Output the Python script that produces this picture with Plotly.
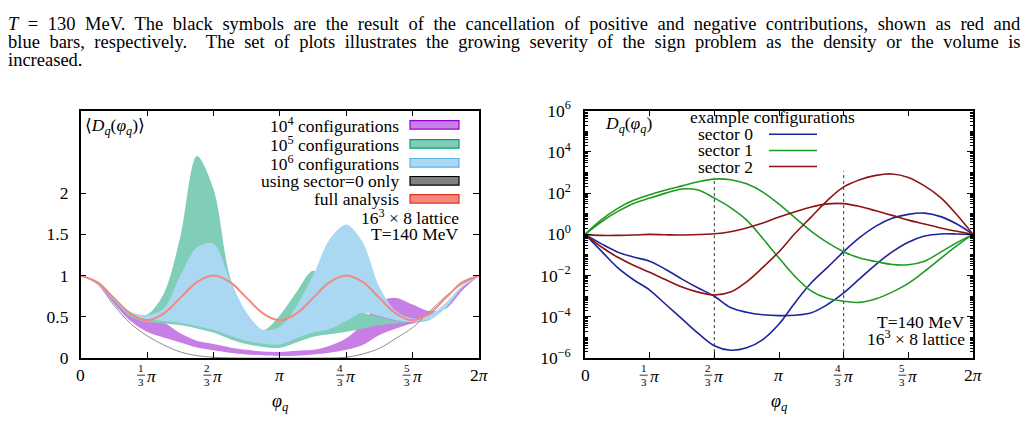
import math
import plotly.graph_objects as go

W, H = 1027, 425
PI = math.pi

# ---------------- data ----------------
# phi grid in units of pi/3 (0 .. 6), step 1/4
u_grid = [0, .25, .5, .75, 1, 1.25, 1.5, 1.75, 2, 2.25, 2.5, 2.75, 3,
          3.25, 3.5, 3.75, 4, 4.25, 4.5, 4.75, 5, 5.25, 5.5, 5.75, 6]

# left panel: <D_q(phi_q)>
full_analysis = [1, .92, .73, .54, .46, .54, .73, .92, 1, .92, .73, .54, .46,
                 .54, .73, .92, 1, .92, .73, .54, .46, .54, .73, .92, 1]
sector0_only = [1, .90, .64, .42, .27, .16, .075, .03, .01, .003, 0, 0, 0,
                0, 0, .002, .01, .05, .12, .24, .37, .56, .75, .90, 1]

conf1e4_upper = [1, .92, .72, .52, .44, .43, .30, .21, .17, .13, .10, .08, .075,
                 .09, .10, .15, .24, .42, .68, .73, .65, .57, .60, .82, 1]
conf1e4_lower = [1, .91, .66, .45, .32, .25, .19, .13, .095, .065, .045, .035, .027,
                 .03, .045, .065, .10, .16, .28, .36, .42, .47, .62, .86, 1]

conf1e5_upper = [1, .92, .73, .56, .53, .78, 1.47, 2.45, 2.05, .98, .52, .34, .52,
                 .80, 1.06, .90, .75, .56, .50, .45, .45, .47, .62, .86, 1]
conf1e5_lower = [1, .92, .70, .50, .44, .42, .40, .36, .31, .23, .17, .135, .125,
                 .19, .26, .29, .32, .36, .40, .42, .44, .46, .61, .86, 1]

conf1e6_upper = [1, .92, .73, .56, .52, .60, 1.0, 1.34, 1.39, .94, .55, .34, .38,
                 .63, 1.0, 1.44, 1.62, 1.40, .86, .57, .48, .52, .67, .88, 1]
conf1e6_lower = [1, .92, .71, .53, .47, .45, .43, .39, .34, .27, .21, .175, .165,
                 .24, .31, .35, .45, .55, .51, .46, .44, .47, .62, .86, 1]

# right panel: log10 of D_q(phi_q) for example configurations
sector0_a_log10 = [0, -.8, -1.6, -2.2, -2.7, -3.4, -4.1, -4.8, -5.4, -5.62, -5.5, -5.1, -4.35,
                   -3.3, -2.35, -1.6, -.84, -.15, .4, .78, .97, 1.03, .86, .5, 0]
sector0_b_log10 = [0, -.45, -.85, -1.1, -1.3, -1.7, -2.17, -2.6, -3.0, -3.55, -3.78, -3.9, -3.94,
                   -3.92, -3.8, -3.4, -2.84, -2.15, -1.45, -.85, -.38, -.08, .02, .02, 0]
sector1_a_log10 = [0, .7, 1.25, 1.65, 1.92, 2.15, 2.35, 2.55, 2.68, 2.65, 2.45, 2.05, 1.46,
                   .8, .15, -.4, -.84, -1.15, -1.32, -1.46, -1.47, -1.3, -.86, -.4, 0]
sector1_b_log10 = [0, .6, 1.1, 1.5, 1.76, 2.0, 2.2, 2.15, 1.76, 1.3, .69, -.2, -1.15,
                   -2.05, -2.75, -3.1, -3.24, -3.3, -3.12, -2.8, -2.38, -1.8, -1.17, -.55, 0]
sector2_a_log10 = [0, -.05, -.05, -.03, 0, -.02, -.03, -.01, .03, .13, .31, .55, .84,
                   1.1, 1.33, 1.48, 1.49, 1.35, 1.14, .92, .69, .5, .31, .15, 0]
sector2_b_log10 = [0, -.6, -1.1, -1.5, -1.84, -2.2, -2.55, -2.8, -2.94, -2.8, -2.3, -1.6, -.84,
                   .05, .85, 1.65, 2.3, 2.65, 2.86, 2.93, 2.76, 2.35, 1.78, .95, 0]

# dotted guides in right panel (phi position in units of pi/3, top in log10)
guide_u = [2, 4]
guide_top_log10 = [2.75, 3.05]

tick_u = [0, 1, 2, 3, 4, 5, 6]
tick_num = ["0", "1", "2", "", "4", "5", "2"]

header_lines = [
    "<i>T</i> = 130 MeV. The black symbols are the result of the cancellation of positive and negative contributions, shown as red and",
    "blue bars, respectively.  The set of plots illustrates the growing severity of the sign problem as the density or the volume is",
    "increased.",
]
header_word_spacing = [4.9, 4.9, 0]

phi = [v * PI / 3 for v in u_grid]

# ---------------- styling ----------------
SERIF = "Liberation Serif, DejaVu Serif, serif"
FS = 17.5
C_PURPLE = "#c77fe6"
C_GREEN = "#80ceb8"
C_BLUE = "#aad8f2"
C_RED = "#f2897c"
C_GRAY = "#8c8c8c"
L_BLUE = "#1c2599"
L_GREEN = "#1f9a22"
L_RED = "#8e1414"

fig = go.Figure()

def band(upper, lower, color):
    fig.add_trace(go.Scatter(
        x=phi + phi[::-1], y=upper + lower[::-1], fill="toself",
        fillcolor=color, mode="lines",
        line=dict(width=0, shape="spline", smoothing=0.9, color=color),
        hoverinfo="skip", showlegend=False, xaxis="x", yaxis="y"))

band(conf1e4_upper, conf1e4_lower, C_PURPLE)
band(conf1e5_upper, conf1e5_lower, C_GREEN)
band(conf1e6_upper, conf1e6_lower, C_BLUE)

fig.add_trace(go.Scatter(x=phi, y=sector0_only, mode="lines",
                         line=dict(color=C_GRAY, width=1, shape="spline"),
                         showlegend=False, xaxis="x", yaxis="y"))
fig.add_trace(go.Scatter(x=phi, y=full_analysis, mode="lines",
                         line=dict(color=C_RED, width=2, shape="spline"),
                         showlegend=False, xaxis="x", yaxis="y"))

# right panel guides
for gu, gt in zip(guide_u, guide_top_log10):
    fig.add_trace(go.Scatter(x=[gu * PI / 3, gu * PI / 3], y=[1e-6, 10 ** gt],
                             mode="lines", line=dict(color="#333", width=1, dash="dot"),
                             showlegend=False, xaxis="x2", yaxis="y2"))

for series, col in [(sector0_a_log10, L_BLUE), (sector0_b_log10, L_BLUE),
                    (sector1_a_log10, L_GREEN), (sector1_b_log10, L_GREEN),
                    (sector2_a_log10, L_RED), (sector2_b_log10, L_RED)]:
    fig.add_trace(go.Scatter(x=phi, y=[10 ** v for v in series], mode="lines",
                             line=dict(color=col, width=1.6, shape="spline"),
                             showlegend=False, xaxis="x2", yaxis="y2"))

# ---------------- layout ----------------
def px(x):
    return x / W

def py(y):
    return 1 - y / H

ydom = [py(365), py(104)]
tickvals_x = [v * PI / 3 for v in tick_u]

axis_common = dict(showline=True, linecolor="black", linewidth=1.5, mirror="ticks",
                   ticks="inside", ticklen=6, tickcolor="black", tickwidth=1.2,
                   showgrid=False, zeroline=False)

minor_vals = []
for e in range(-6, 6):
    for m in range(2, 10):
        minor_vals.append(m * 10 ** e)
    if e % 2 == 1:
        minor_vals.append(10 ** e)

fig.update_layout(
    width=W, height=H, margin=dict(l=0, r=0, t=0, b=0),
    paper_bgcolor="white", plot_bgcolor="white",
    font=dict(family=SERIF, size=FS, color="black"),
    xaxis=dict(domain=[px(80.7), px(479)], range=[0, 2 * PI], tickvals=tickvals_x,
               showticklabels=False, anchor="y", **axis_common),
    yaxis=dict(domain=ydom, range=[0, 3], tickvals=[0, .5, 1, 1.5, 2],
               ticktext=["0", "0.5", "1", "1.5", "2"], ticklabelstandoff=7,
               tickfont=dict(size=FS), anchor="x", **axis_common),
    xaxis2=dict(domain=[px(585), px(973)], range=[0, 2 * PI], tickvals=tickvals_x,
                showticklabels=False, anchor="y2", **axis_common),
    yaxis2=dict(domain=ydom, type="log", range=[-6, 6],
                tickvals=[10 ** e for e in range(-6, 7, 2)],
                ticktext=["10<sup>−6</sup>", "10<sup>−4</sup>", "10<sup>−2</sup>", "10<sup>0</sup>",
                          "10<sup>2</sup>", "10<sup>4</sup>", "10<sup>6</sup>"],
                ticklabelstandoff=9, tickfont=dict(size=FS),
                minor=dict(ticks="inside", ticklen=3, tickvals=minor_vals, tickcolor="black"),
                anchor="x2", **axis_common),
)

ann = []
shapes = []

def text(x, y, s, size=FS, xanchor="left"):
    ann.append(dict(x=px(x), y=py(y), xref="paper", yref="paper", text=s, showarrow=False,
                    xanchor=xanchor, yanchor="middle", borderpad=0,
                    font=dict(family=SERIF, size=size, color="black")))

# header paragraph (justified via word spacing)
for i, (line, ws) in enumerate(zip(header_lines, header_word_spacing)):
    s = "<span style='word-spacing:%.1fpx'>%s</span>" % (ws, line) if ws else line
    text(7, 12.5 + 19.2 * i, s, 18.5)

# x tick labels with stacked fractions
for xa in ["x", "x2"]:
    for tu, num in zip(tick_u, tick_num):
        xv = tu * PI / 3
        base = dict(x=xv, xref=xa, yref="paper", showarrow=False, yanchor="middle",
                    font=dict(family=SERIF, size=FS, color="black"))
        if tu == 0:
            ann.append(dict(base, y=py(383), text="0"))
        elif tu == 3:
            ann.append(dict(base, y=py(383), text="<i>π</i>"))
        elif tu == 6:
            ann.append(dict(base, y=py(383), text="2<i>π</i>"))
        else:
            ann.append(dict(base, y=py(383), text=num + "<br>3", xshift=-6,
                            font=dict(family=SERIF, size=11, color="black")))
            ann.append(dict(base, y=py(383.5), text="<i>π</i>", xshift=5))
            shapes.append(dict(type="line", xref=xa, yref="paper", xsizemode="pixel",
                               xanchor=xv, x0=-10, x1=-2, y0=py(383), y1=py(383),
                               line=dict(color="black", width=0.8)))
    ann.append(dict(x=PI, xref=xa, yref="paper", y=py(412),
                    text="<i>φ</i><sub><i>q</i></sub>", showarrow=False, yanchor="middle",
                    font=dict(family=SERIF, size=18, color="black")))

# left panel labels & legend
text(84, 121, "⟨<i>D</i><sub><i>q</i></sub>(<i>φ</i><sub><i>q</i></sub>)⟩")
leg_rows = [(119, "10<sup>4</sup> configurations", C_PURPLE, "#9400d3"),
            (139, "10<sup>5</sup> configurations", C_GREEN, "#009e73"),
            (159, "10<sup>6</sup> configurations", C_BLUE, "#56b4e9"),
            (178, "using sector=0 only", "#808080", "#000000"),
            (197, "full analysis", C_RED, "#e5321e")]
for yy, s, fc, lc in leg_rows:
    text(400, yy, s, xanchor="right")
    shapes.append(dict(type="rect", xref="paper", yref="paper", x0=px(410), x1=px(459),
                       y0=py(yy + 4.5), y1=py(yy - 4.5), fillcolor=fc,
                       line=dict(color=lc, width=1.2)))
text(460, 216.5, "16<sup>3</sup> × 8 lattice", xanchor="right")
text(460, 234, "T=140 MeV", xanchor="right")

# right panel labels & legend
text(604, 119, "<i>D</i><sub><i>q</i></sub>(<i>φ</i><sub><i>q</i></sub>)")
text(689, 111, "example configurations")
for yy, s, col in [(129, "sector 0", L_BLUE), (146, "sector 1", L_GREEN), (163, "sector 2", L_RED)]:
    text(697, yy, s)
    shapes.append(dict(type="line", xref="paper", yref="paper", x0=px(769), x1=px(817),
                       y0=py(yy), y1=py(yy), line=dict(color=col, width=1.6)))
text(966, 326.5, "T=140 MeV", xanchor="right")
text(966, 344, "16<sup>3</sup> × 8 lattice", xanchor="right")

fig.update_layout(annotations=ann, shapes=shapes)
fig.write_html("out.html")
